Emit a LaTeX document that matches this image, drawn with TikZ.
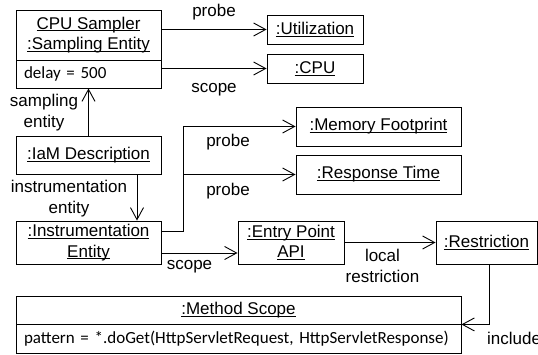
\documentclass[tikz,border=0pt]{standalone}
\usepackage{fontspec}
\setmainfont{Liberation Sans}
\newfontfamily\attrfont{Carlito}
\usetikzlibrary{arrows.meta}
% underline at a fixed depth, through the descenders
\newcommand{\uname}[1]{\setbox0\hbox{#1}\rlap{\rule[-2.2pt]{\wd0}{0.9pt}}\box0}

\begin{document}
\begin{tikzpicture}[x=1pt,y=-1pt,
  every node/.style={font=\fontsize{17}{20.5}\selectfont},
  obj/.style={draw,line width=0.9pt,align=center,inner sep=0pt},
  attr/.style={draw,line width=0.9pt,align=left,inner sep=0pt,font=\attrfont\fontsize{17}{20.5}\selectfont},
  link/.style={line width=0.9pt,-{Straight Barb[length=12pt,width=13pt]}},
  lbl/.style={anchor=base,align=center,inner sep=0pt}]

            \useasboundingbox (0,0) rectangle (538,355);
            % sampling entity with its attribute
            \node[obj,minimum width=145pt,minimum height=50pt] (sampler) at (88.5,35) {\uname{CPU Sampler}\\\uname{:Sampling Entity}};
            \node[attr,minimum width=145pt,minimum height=28pt,text width=129pt] (delay) at (88.5,74) {delay = 500};
            \node[obj,minimum width=96pt,minimum height=29pt] (util) at (315,29.5) {\uname{:Utilization}};
            \node[obj,minimum width=96pt,minimum height=29pt] (cpu) at (315,68.5) {\uname{:CPU}};
            \node[obj,minimum width=145pt,minimum height=38pt] (iam) at (88.5,155) {\uname{:IaM Description}};
            \node[obj,minimum width=165pt,minimum height=39pt] (memory) at (378.5,126.5) {\uname{:Memory Footprint}};
            \node[obj,minimum width=165pt,minimum height=39pt] (response) at (378.5,174.5) {\uname{:Response Time}};
            \node[obj,minimum width=145pt,minimum height=43pt] (instr) at (88.5,242.5) {\uname{:Instrumentation}\\\uname{Entity}};
            \node[obj,minimum width=106pt,minimum height=43pt] (entry) at (291,242.5) {\uname{:Entry Point}\\\uname{API}};
            \node[obj,minimum width=101pt,minimum height=43pt] (restr) at (486.5,242.5) {\uname{:Restriction}};
            % method scope with its pattern
            \node[obj,minimum width=445pt,minimum height=28pt] (method) at (238.5,310) {\uname{:Method Scope}};
            \node[attr,minimum width=445pt,minimum height=29pt,text width=429pt] (pattern) at (238.5,338.5) {pattern = *.doGet(HttpServletRequest, HttpServletResponse)};

            % links
            \draw[link] (sampler.east |- util.west) -- (util.west);
            \draw[link] (delay.east |- cpu.west) -- (cpu.west);
            \draw[link] (iam.north) -- (delay.south);
            \draw[link] ([xshift=48.5pt]iam.south) -- ([xshift=48.5pt]instr.north);
            \coordinate (fork) at (183,0);
            \draw[link] ([yshift=11.5pt]instr.east) -| (fork |- memory.west) -- (memory.west);
            \draw[link] (fork |- response.west) -- (response.west);
            \draw[link] ([yshift=-10.5pt]instr.east) -- ([yshift=-10.5pt]entry.west);
            \draw[link] (entry.east) -- (restr.west);
            \draw[link] ([xshift=2.5pt]restr.south) |- (method.south east);

            % link labels (base is the last line)
            \node[lbl] (probeutil) at (214,16.7) {probe};
            \node[lbl] (scopecpu) at (214,92.5) {scope};
            \node[lbl] (samplingent) at (44,127.5) {sampling\\entity};
            \node[lbl] (probemem) at (228,146.5) {probe};
            \node[lbl] (proberesp) at (228,196) {probe};
            \node[lbl] (instrent) at (69,213.2) {instrumentation\\entity};
            \node[lbl] (scopeentry) at (189.5,270) {scope};
            \node[lbl] (localrestr) at (382.5,282.2) {local\\restriction};
            \node[lbl,anchor=base west] (includes) at (487,344) {include};
        \end{tikzpicture}
\end{document}
